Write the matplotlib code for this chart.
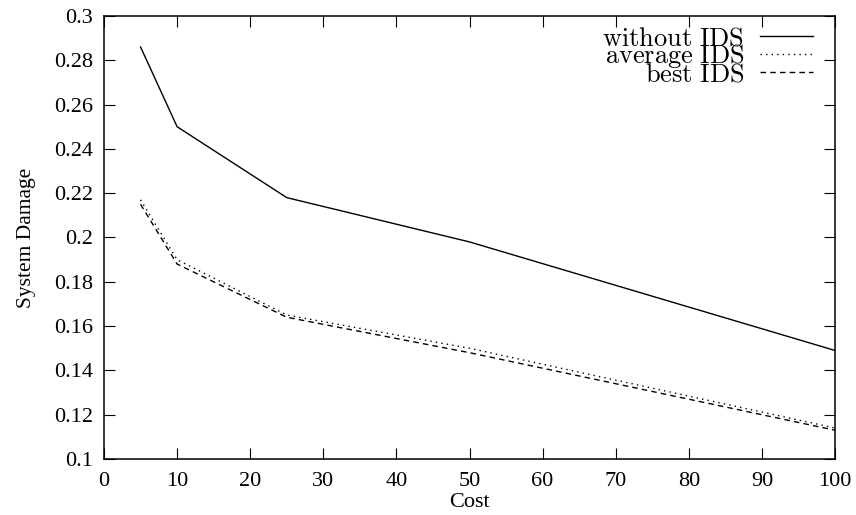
import matplotlib
matplotlib.use("Agg")
import matplotlib.pyplot as plt

# data
cost = [5, 10, 25, 50, 100]
without_ids = [0.286, 0.250, 0.218, 0.198, 0.149]
average_ids = [0.217, 0.190, 0.165, 0.150, 0.114]
best_ids = [0.215, 0.188, 0.164, 0.148, 0.113]

x_ticks = list(range(0, 101, 10))
y_ticks = [0.1, 0.12, 0.14, 0.16, 0.18, 0.2, 0.22, 0.24, 0.26, 0.28, 0.3]
y_ticklabels = ["0.1", "0.12", "0.14", "0.16", "0.18", "0.2", "0.22", "0.24", "0.26", "0.28", "0.3"]

plt.rcParams["font.family"] = ["Liberation Serif", "DejaVu Serif"]
plt.rcParams["mathtext.fontset"] = "cm"

fig = plt.figure(figsize=(8.56, 5.15), dpi=100)
ax = fig.add_axes([0.1215, 0.1087, 0.854, 0.8603])

ax.plot(cost, without_ids, color="black", lw=1.0, ls="-", label=r"$\mathrm{without\ IDS}$")
ax.plot(cost, average_ids, color="black", lw=1.0, ls=(0, (1, 3)), label=r"$\mathrm{average\ IDS}$")
ax.plot(cost, best_ids, color="black", lw=1.0, ls=(0, (4, 3)), label=r"$\mathrm{best\ IDS}$")

ax.set_xlim(0, 100)
ax.set_ylim(0.1, 0.3)
ax.set_xticks(x_ticks)
ax.set_yticks(y_ticks)
ax.set_yticklabels(y_ticklabels)
ax.tick_params(direction="in", length=8, width=0.8, top=True, right=True,
               labelsize=16)
ax.tick_params(axis="y", pad=8)
ax.tick_params(axis="x", pad=9)
for s in ax.spines.values():
    s.set_linewidth(1.1)

ax.set_xlabel("Cost", fontsize=16, labelpad=2)
ax.set_ylabel("System Damage", fontsize=15.5, labelpad=13)

leg = ax.legend(loc="upper right", bbox_to_anchor=(0.995, 1.017), frameon=False,
                markerfirst=False, fontsize=19, labelspacing=-0.3,
                handlelength=2.0, handletextpad=0.6, borderpad=0.2)

fig.savefig("out.png", dpi=100)
